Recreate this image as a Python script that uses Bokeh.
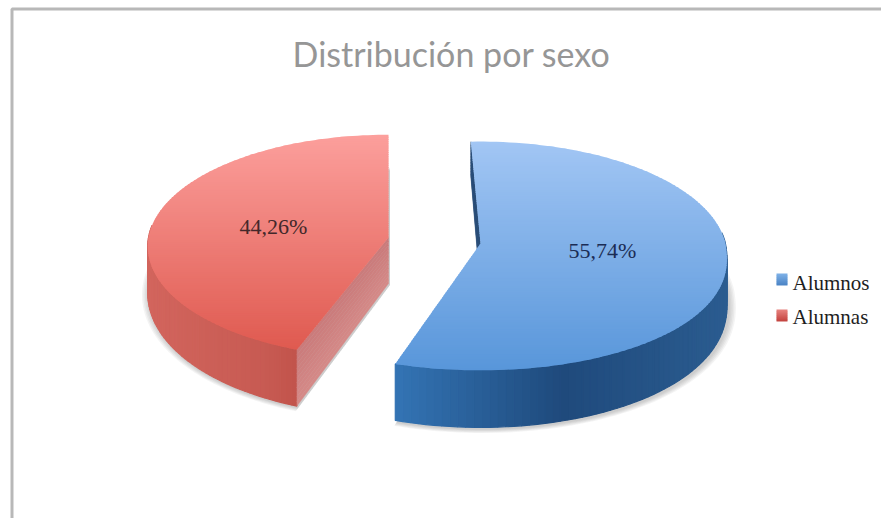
import math
from bokeh.plotting import figure
from bokeh.models import Range1d
from bokeh.core.properties import value
from bokeh.embed import file_html
from bokeh.resources import INLINE

title_text = "Distribución por sexo"
categories = ["Alumnos", "Alumnas"]
shares = [55.74, 44.26]
share_labels = ["55,74%", "44,26%"]

# ---- layout and styling (pixels on the page) ----
W, H = 881, 518
BLUE = dict(cx=480, cy=243, rx=245, ry=113, k=0.109, start=-2.5, low=0.9,
            face=("#a2c6f4", "#5896da"), wall=("#3374b4", "#1f4a7c", "#2b5c90"),
            cut=("#2a4e78", "#2a4e78"))
RED = dict(cx=388, cy=237, rx=240, ry=111, k=0.08, start=None, low=1.0,
           face=("#fc9f9c", "#df5a50"), wall=("#d2655d", "#c75a52", "#ae3c35"),
           cut=("#c97a7a", "#d68a88"))
D0, DM = 46, 0.24


def lerp(c1, c2, t):
    a = [int(c1[i:i + 2], 16) for i in (1, 3, 5)]
    b = [int(c2[i:i + 2], 16) for i in (1, 3, 5)]
    return "#%02x%02x%02x" % tuple(round(a[i] + (b[i] - a[i]) * t) for i in range(3))


def project(g, deg):
    th = math.radians(deg)
    u, v = math.sin(th), math.cos(th)
    s = 1 / (1 + g["k"] * v)
    vy = v if v >= 0 else -(abs(v) ** g["low"])
    return g["cx"] + g["rx"] * u * s, g["cy"] - g["ry"] * vy * s, v


def rim(g, a0, a1, n=120):
    return [project(g, a0 + (a1 - a0) * i / n) for i in range(n + 1)]


def clip_y(poly, y0, y1):
    def clip(pts, inside, cross):
        out = []
        for i, pt in enumerate(pts):
            q = pts[(i + 1) % len(pts)]
            if inside(pt):
                out.append(pt)
            if inside(pt) != inside(q):
                out.append(cross(pt, q))
        return out

    def at(yv):
        return lambda a, b: (a[0] + (b[0] - a[0]) * (yv - a[1]) / (b[1] - a[1]), yv)

    r = clip(poly, lambda a: a[1] >= y0, at(y0))
    return clip(r, lambda a: a[1] <= y1, at(y1)) if r else r


p = figure(width=W, height=H, output_backend="svg", toolbar_location=None,
           x_range=Range1d(0, W), y_range=Range1d(H, 0),
           min_border=0, outline_line_color=None, background_fill_color="white",
           border_fill_color="white", x_axis_type=None, y_axis_type=None)
p.grid.visible = False

# chart frame
p.line([11.5, 11.5, W], [H, 8.5, 8.5], line_color="#b8b8b8", line_width=3)


def draw_slice(g, a0, a1):
    arc = rim(g, a0, a1)
    top = [(x, y) for x, y, _ in arc]
    bottom = [(x, y + D0 * (1 - DM * v)) for x, y, v in arc]
    apex = (g["cx"], g["cy"])
    apex_b = (g["cx"], g["cy"] + D0)

    # soft shadow
    for i in range(1, 6):
        poly = [apex_b] + bottom
        f = 1 + i * 0.006
        ccx, ccy = g["cx"], g["cy"] + D0
        p.patch([ccx + (x - ccx) * f + 1.5 for x, _ in poly],
                [ccy + (y - ccy) * f + 1.5 for _, y in poly],
                fill_color="#606060", fill_alpha=0.07, line_color=None)

    # outer wall, shaded along x (only the part facing the viewer)
    xs = [t[0] for t in top]
    xmin, xmax = min(xs), max(xs)
    c0, c1, c2 = g["wall"]
    for i in range(len(top) - 1):
        if arc[i][2] > 0.1:
            continue
        t = ((top[i][0] + top[i + 1][0]) / 2 - xmin) / (xmax - xmin)
        col = lerp(c0, c1, t * 2) if t < .5 else lerp(c1, c2, t * 2 - 1)
        p.patch([top[i][0], top[i + 1][0], bottom[i + 1][0], bottom[i][0]],
                [top[i][1], top[i + 1][1], bottom[i + 1][1], bottom[i][1]],
                fill_color=col, line_color=col, line_width=1.2)

    return arc, top, bottom, apex, apex_b


def draw_face(g, top, apex):
    poly = [apex] + top
    ymin, ymax = min(y for _, y in poly), max(y for _, y in poly)
    n = 100
    for i in range(n):
        y0 = ymin + (ymax - ymin) * i / n
        y1 = ymin + (ymax - ymin) * (i + 1) / n
        band = clip_y(poly, y0, y1 + 1.0)
        if len(band) < 3:
            continue
        col = lerp(g["face"][0], g["face"][1], (i + .5) / n)
        p.patch([b[0] for b in band], [b[1] for b in band], fill_color=col, line_color=None)


def draw_cut(g, a, b, a2, b2):
    n = 12
    for i in range(n):
        t0, t1 = i / n, (i + 1) / n
        col = lerp(g["cut"][0], g["cut"][1], (t0 + t1) / 2)
        qx = [a[0] + (a2[0] - a[0]) * t0, a[0] + (a2[0] - a[0]) * t1,
              b[0] + (b2[0] - b[0]) * t1, b[0] + (b2[0] - b[0]) * t0]
        qy = [a[1] + (a2[1] - a[1]) * t0, a[1] + (a2[1] - a[1]) * t1,
              b[1] + (b2[1] - b[1]) * t1, b[1] + (b2[1] - b[1]) * t0]
        p.patch(qx, qy, fill_color=col, line_color=col, line_width=0.4)


# red slice: ends at the top of the ellipse
red_sweep = shares[1] / 100 * 360
arc, top, bottom, apex, apex_b = draw_slice(RED, 360 - red_sweep, 360)
draw_cut(RED, apex, top[0], apex_b, bottom[0])
draw_face(RED, top, apex)

# blue slice: starts just left of the top of the ellipse
blue_sweep = shares[0] / 100 * 360
arc, top, bottom, apex, apex_b = draw_slice(BLUE, BLUE["start"], BLUE["start"] + blue_sweep)
draw_cut(BLUE, top[0], apex, bottom[0], apex_b)
draw_face(BLUE, top, apex)

# texts
p.text([451], [53], text=[title_text], text_font=value("Lato"), text_font_size="34px",
       text_color="#969696", text_align="center", text_baseline="middle")
p.text([273, 602], [226, 250], text=[share_labels[1], share_labels[0]],
       text_font=value("Liberation Serif"), text_font_size="22px",
       text_color=["#43282a", "#1b2c55"], text_align="center", text_baseline="middle")

# legend
key_colors = [("#7fb2e8", "#4a82c4"), ("#e88480", "#c2403c")]
for (c_top, c_bot), yc in zip(key_colors, [279, 315]):
    n = 6
    for i in range(n):
        p.quad(left=[776], right=[787], top=[yc - 6 + 12 * i / n],
               bottom=[yc - 6 + 12 * (i + 1) / n + (0.8 if i < n - 1 else 0)],
               fill_color=lerp(c_top, c_bot, (i + .5) / n), line_color=None)
p.text([792, 792], [282, 316], text=categories, text_font=value("Liberation Serif"),
       text_font_size="21px", text_color="#1e1e1e", text_align="left", text_baseline="middle")

open("out.html", "w").write(file_html(p, INLINE))
